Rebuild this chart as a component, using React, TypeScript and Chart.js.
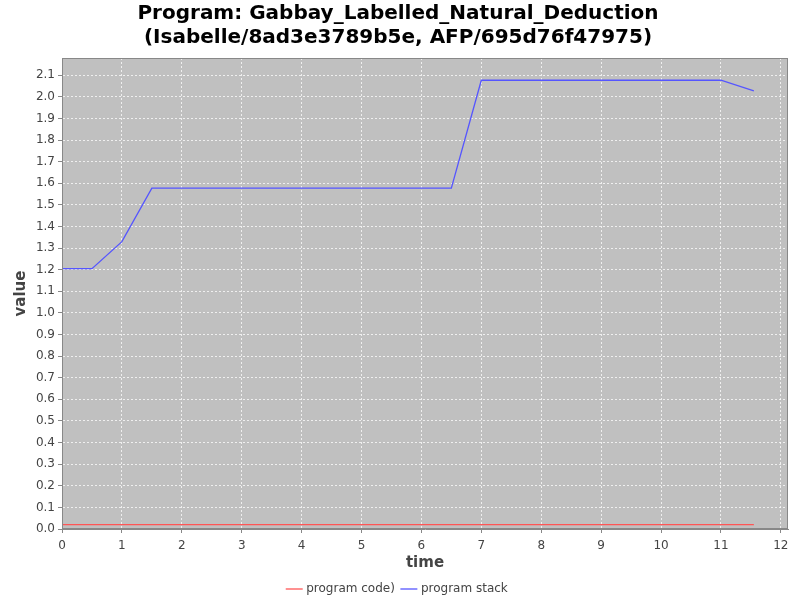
import React, { useEffect, useRef } from "react";
import { Chart, registerables } from "chart.js";

Chart.register(...registerables);

const titleLines = [
  "Program: Gabbay_Labelled_Natural_Deduction",
  "(Isabelle/8ad3e3789b5e, AFP/695d76f47975)",
];
const times = [0, 0.5, 1, 1.5, 2, 2.5, 3, 3.5, 4, 4.5, 5, 5.5, 6, 6.5, 7, 7.5, 8, 8.5, 9, 9.5, 10, 10.5, 11, 11.55];
const programCode = [0.02, 0.02, 0.02, 0.02, 0.02, 0.02, 0.02, 0.02, 0.02, 0.02, 0.02, 0.02, 0.02, 0.02, 0.02, 0.02, 0.02, 0.02, 0.02, 0.02, 0.02, 0.02, 0.02, 0.02];
const programStack = [1.205, 1.205, 1.33, 1.578, 1.578, 1.578, 1.578, 1.578, 1.578, 1.578, 1.578, 1.578, 1.578, 1.578, 2.077, 2.077, 2.077, 2.077, 2.077, 2.077, 2.077, 2.077, 2.077, 2.028];
const seriesNames = ["program code)", "program stack"];
const xAxisTitle = "time";
const yAxisTitle = "value";

const plotBg = {
  id: "plotBg",
  beforeDraw(chart: any) {
    const { ctx, chartArea } = chart;
    ctx.save();
    ctx.fillStyle = "#c0c0c0";
    ctx.fillRect(chartArea.left, chartArea.top, chartArea.right - chartArea.left, chartArea.bottom - chartArea.top);
    ctx.restore();
  },
  afterDatasetsDraw(chart: any) {
    const { ctx, chartArea } = chart;
    ctx.save();
    ctx.strokeStyle = "#888888";
    ctx.lineWidth = 1;
    ctx.strokeRect(chartArea.left + 0.5, chartArea.top + 0.5, chartArea.right - chartArea.left - 1, chartArea.bottom - chartArea.top - 1);
    ctx.restore();
  },
};

export default function App() {
  const ref = useRef<HTMLCanvasElement>(null);
  useEffect(() => {
    const font = "'DejaVu Sans', sans-serif";
    const gridColor = "rgba(255,255,255,0.75)";
    const chart = new Chart(ref.current!, {
      type: "line",
      data: {
        datasets: [
          {
            label: seriesNames[0],
            data: times.map((t, i) => ({ x: t, y: programCode[i] })),
            borderColor: "#ff5555",
            backgroundColor: "#ff5555",
            borderWidth: 1.3,
            pointRadius: 0,
          },
          {
            label: seriesNames[1],
            data: times.map((t, i) => ({ x: t, y: programStack[i] })),
            borderColor: "#5555ff",
            backgroundColor: "#5555ff",
            borderWidth: 1.3,
            pointRadius: 0,
          },
        ],
      },
      options: {
        animation: false,
        responsive: false,
        devicePixelRatio: 1,
        layout: { padding: { left: 8, right: 12, top: 0, bottom: -5 } },
        plugins: {
          title: {
            display: true,
            text: titleLines,
            color: "#000000",
            font: { family: font, size: 20, weight: "bold", lineHeight: 1.2 },
            padding: { top: 2, bottom: 8 },
          },
          legend: {
            position: "bottom",
            labels: {
              color: "#444444",
              font: { family: font, size: 12 },
              usePointStyle: true,
              pointStyle: "line",
              boxWidth: 14,
              padding: 8,
            },
          },
          tooltip: { enabled: false },
        },
        scales: {
          x: {
            type: "linear",
            min: 0,
            max: 12.12,
            ticks: {
              stepSize: 1,
              includeBounds: false,
              color: "#444444",
              font: { family: font, size: 12 },
              padding: 6,
              maxRotation: 0,
            },
            grid: {
              color: gridColor,
              tickColor: "#888888",
              tickLength: 4,
              tickBorderDash: [],
            } as any,
            border: { display: true, color: "#888888", dash: [2, 2] } as any,
            title: {
              display: true,
              text: xAxisTitle,
              color: "#444444",
              font: { family: font, size: 15, weight: "bold" },
              padding: { top: 2, bottom: 3 },
            },
            afterFit(scale: any) {
              scale.height = 46;
            },
          },
          y: {
            type: "linear",
            min: 0,
            max: 2.18,
            ticks: {
              stepSize: 0.1,
              includeBounds: false,
              color: "#444444",
              font: { family: font, size: 12 },
              padding: 3,
              callback: (v: any) => Number(v).toFixed(1),
            },
            grid: {
              color: gridColor,
              tickColor: "#888888",
              tickLength: 4,
              tickBorderDash: [],
            } as any,
            border: { display: true, color: "#888888", dash: [2, 2] } as any,
            title: {
              display: true,
              text: yAxisTitle,
              color: "#444444",
              font: { family: font, size: 15, weight: "bold" },
              padding: { top: 4, bottom: 2 },
            },
            afterFit(scale: any) {
              scale.width = 54;
            },
          },
        },
      },
      plugins: [plotBg],
    });
    return () => chart.destroy();
  }, []);
  return (
    <div style={{ position: "fixed", left: 0, top: 0, width: 800, height: 600, background: "#ffffff" }}>
      <canvas ref={ref} width={800} height={600} style={{ width: 800, height: 600 }} />
    </div>
  );
}
